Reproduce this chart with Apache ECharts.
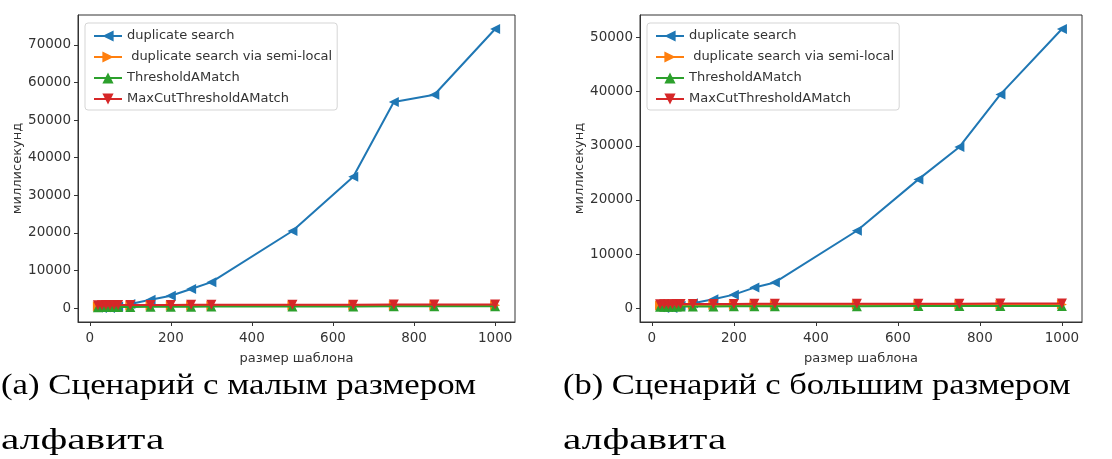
<!DOCTYPE html>
<html>
<head>
<meta charset="utf-8">
<script src="https://cdn.jsdelivr.net/npm/echarts@6/dist/echarts.min.js"></script>
<style>
html,body{margin:0;padding:0;background:#fff;}
#c{width:1112px;height:459px;}
</style>
</head>
<body>
<div id="c"></div>
<script>
// ---- data ----
const patternSizes = [20, 30, 40, 50, 60, 70, 100, 150, 200, 250, 300, 500, 650, 750, 850, 1000];
const seriesNames = ['duplicate search', ' duplicate search via semi-local', 'ThresholdAMatch', 'MaxCutThresholdAMatch'];

// (a) small alphabet
const dupSearchA   = [150, 20, 200, 30, 300, 450, 1100, 2200, 3300, 5100, 6900, 20500, 34900, 54800, 56700, 74200];
const semiLocalA   = [500, 520, 540, 550, 560, 580, 600, 620, 640, 650, 660, 680, 700, 720, 730, 750];
const thresholdA   = [250, 270, 280, 300, 300, 320, 330, 350, 370, 380, 400, 420, 450, 470, 480, 500];
const maxCutA      = [750, 780, 800, 800, 820, 820, 830, 850, 860, 870, 880, 900, 920, 930, 940, 950];

// (b) large alphabet
const dupSearchB   = [150, 20, 200, 30, 300, 450, 900, 1650, 2500, 3800, 4750, 14300, 23800, 29800, 39500, 51600];
const semiLocalB   = [480, 500, 510, 520, 530, 540, 560, 570, 580, 590, 600, 620, 630, 640, 650, 660];
const thresholdB   = [250, 260, 270, 280, 290, 300, 310, 320, 330, 340, 350, 370, 380, 390, 400, 410];
const maxCutB      = [700, 720, 730, 740, 750, 760, 770, 780, 790, 800, 800, 810, 820, 830, 840, 850];

const xTicks  = [0, 200, 400, 600, 800, 1000];
const yTicksA = [0, 10000, 20000, 30000, 40000, 50000, 60000, 70000];
const yTicksB = [0, 10000, 20000, 30000, 40000, 50000];

const captionA = ['(a) Сценарий с малым размером', 'алфавита'];
const captionB = ['(b) Сценарий с большим размером', 'алфавита'];
const xName = 'размер шаблона';
const yName = 'миллисекунд';

// ---- styling ----
const colors = ['#1f77b4', '#ff7f0e', '#2ca02c', '#d62728'];
const symbols = [
  'path://M0,5L10,0L10,10Z',   // left-pointing
  'path://M10,5L0,0L0,10Z',    // right-pointing
  'path://M5,0L10,10L0,10Z',   // up
  'path://M0,0L10,0L5,10Z'     // down
];
const font = 'DejaVu Sans';
const axisColor = '#333';
const plain = v => String(v);

function range(arrs) {
  let mn = Infinity, mx = -Infinity;
  arrs.forEach(a => a.forEach(v => { mn = Math.min(mn, v); mx = Math.max(mx, v); }));
  const m = (mx - mn) * 0.05;
  return [mn - m, mx + m];
}

const xr = range([patternSizes]);
const yrA = range([dupSearchA, semiLocalA, thresholdA, maxCutA]);
const yrB = range([dupSearchB, semiLocalB, thresholdB, maxCutB]);

function xAxis(gi) {
  return {
    type: 'value', gridIndex: gi, min: xr[0], max: xr[1],
    name: xName, nameLocation: 'middle', nameGap: 30,
    nameTextStyle: {fontFamily: font, fontSize: 13, color: axisColor},
    axisLine: {show: true, onZero: false, lineStyle: {color: axisColor, width: 1}},
    axisTick: {show: true, length: 4, lineStyle: {color: axisColor}, customValues: xTicks},
    axisLabel: {fontFamily: font, fontSize: 13.5, color: axisColor, margin: 9, customValues: xTicks, formatter: plain},
    splitLine: {show: false}
  };
}
function yAxis(gi, yr, ticks) {
  return {
    type: 'value', gridIndex: gi, min: yr[0], max: yr[1],
    name: yName, nameLocation: 'middle', nameGap: 54, nameRotate: 90,
    nameTextStyle: {fontFamily: font, fontSize: 13, color: axisColor},
    axisLine: {show: true, onZero: false, lineStyle: {color: axisColor, width: 1}},
    axisTick: {show: true, length: 4, lineStyle: {color: axisColor}, customValues: ticks},
    axisLabel: {fontFamily: font, fontSize: 13.5, color: axisColor, margin: 7, customValues: ticks, formatter: plain},
    splitLine: {show: false}
  };
}
function mkSeries(gi, datas) {
  return datas.map((d, i) => ({
    type: 'line', name: seriesNames[i], xAxisIndex: gi, yAxisIndex: gi,
    data: patternSizes.map((x, k) => [x, d[k]]),
    symbol: symbols[i], symbolSize: 10, showAllSymbol: true,
    lineStyle: {color: colors[i], width: 2},
    itemStyle: {color: colors[i]},
    emphasis: {disabled: true},
    z: 2 + i
  }));
}
function legend(left) {
  return {
    orient: 'vertical', left: left, top: 23,
    data: seriesNames,
    padding: [6, 5, 4, 8],
    itemWidth: 28, itemHeight: 14, itemGap: 7,
    textStyle: {fontFamily: font, fontSize: 13, color: axisColor, lineHeight: 14},
    borderColor: '#d5d5d5', borderWidth: 1, borderRadius: 3,
    backgroundColor: 'rgba(255,255,255,0.85)',
    selectedMode: false
  };
}
function captionGraphics(lines, x, s1) {
  return [
    {type: 'text', x: x, y: 371, scaleX: s1, originX: 0,
     style: {text: lines[0], font: '30px "Liberation Serif"', fill: '#000', verticalAlign: 'top'}},
    {type: 'text', x: x, y: 426, scaleX: 1.38, originX: 0,
     style: {text: lines[1], font: '30px "Liberation Serif"', fill: '#000', verticalAlign: 'top'}}
  ];
}

const chart = echarts.init(document.getElementById('c'), null, {renderer: 'canvas'});
chart.setOption({
  animation: false,
  backgroundColor: '#fff',
  grid: [
    {left: 78, top: 15, width: 437, height: 307, show: true, borderColor: axisColor, borderWidth: 1, containLabel: false},
    {left: 640, top: 15, width: 442, height: 307, show: true, borderColor: axisColor, borderWidth: 1, containLabel: false}
  ],
  xAxis: [xAxis(0), xAxis(1)],
  yAxis: [yAxis(0, yrA, yTicksA), yAxis(1, yrB, yTicksB)],
  legend: [legend(85), legend(647)],
  series: mkSeries(0, [dupSearchA, semiLocalA, thresholdA, maxCutA])
    .concat(mkSeries(1, [dupSearchB, semiLocalB, thresholdB, maxCutB])),
  graphic: captionGraphics(captionA, 1, 1.16).concat(captionGraphics(captionB, 563, 1.15))
});
</script>
</body>
</html>
